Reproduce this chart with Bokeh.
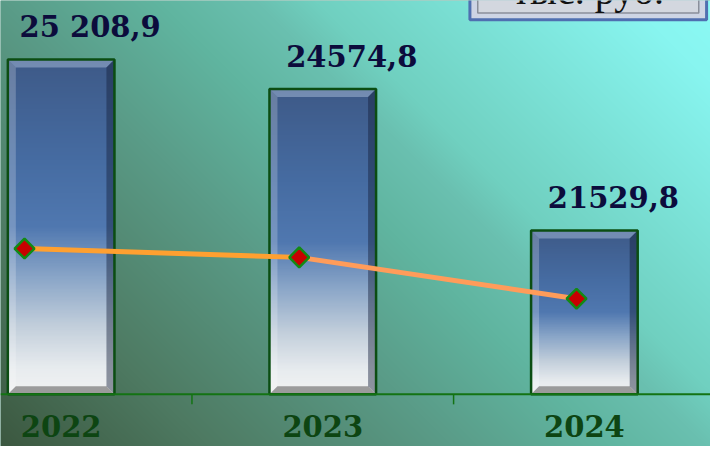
import numpy as np
from bokeh.plotting import figure
from bokeh.models import Range1d
from bokeh.embed import file_html
from bokeh.resources import INLINE
from bokeh.core.properties import value

# ---------------- data ----------------
years = ["2022", "2023", "2024"]
bar_values = [25208.9, 24574.8, 21529.8]
bar_labels = ["25 208,9", "24574,8", "21529,8"]
line_values = [21140, 20950, 20060]
line_x_shift = [-0.14, -0.09, -0.03]
unit_label = "тыс. руб."
base_value = 18000

# ---------------- layout ----------------
W, H = 710, 446
RW, RH = 726, 462
x0, x1 = -0.2318, 2.482
y0, y1 = 16877, 26482
ppx = W / (x1 - x0)          # pixels per x unit
ppy = H / (y1 - y0)          # pixels per y unit


def px(xr):
    return x0 + xr / RW * (x1 - x0)


def py(yr):
    return y1 - yr / RH * (y1 - y0)


p = figure(width=W, height=H, x_range=Range1d(x0, x1), y_range=Range1d(y0, y1),
           output_backend="svg", toolbar_location=None, min_border=0,
           x_axis_type=None, y_axis_type=None)
p.grid.visible = False
p.outline_line_color = None
p.background_fill_color = "#5a9c88"
p.border_fill_color = "#5a9c88"

# ---------------- background gradient ----------------
stops_s = [0, 212, 462, 622, 722, 782, 1102, 1188]
stops_r = [60, 78, 90, 96, 106, 112, 136, 140]
stops_g = [88, 122, 156, 181, 192, 208, 245, 250]
stops_b = [64, 98, 136, 160, 176, 192, 240, 245]
cols = (np.arange(W) + 0.5) * RW / W
rows = np.arange(H)
yr = (H - 1 - rows + 0.5) * RH / H
S = cols[None, :] + (RH - yr[:, None])
img = np.empty((H, W), dtype=np.uint32)
view = img.view(dtype=np.uint8).reshape((H, W, 4))
view[..., 0] = np.interp(S, stops_s, stops_r).astype(np.uint8)
view[..., 1] = np.interp(S, stops_s, stops_g).astype(np.uint8)
view[..., 2] = np.interp(S, stops_s, stops_b).astype(np.uint8)
view[..., 3] = 255
p.image_rgba(image=[img], x=x0, y=y0, dw=x1 - x0, dh=y1 - y0)

# ---------------- bars ----------------
bar_w = 0.4075
idx = np.arange(len(years))
g_f = [0.0, 0.3, 0.5, 0.65, 0.8, 0.92, 1.0]
g_r = [0x3e, 0x46, 0x50, 0x8a, 0xc4, 0xe8, 0xf2]
g_g = [0x5a, 0x6c, 0x78, 0xa6, 0xd0, 0xec, 0xf2]
g_b = [0x88, 0xa2, 0xb0, 0xc8, 0xdc, 0xef, 0xf2]
NR = 256
f = 1 - (np.arange(NR) + 0.5) / NR      # row 0 is the bottom of the image
bar_img = np.empty((NR, 1), dtype=np.uint32)
bv = bar_img.view(dtype=np.uint8).reshape((NR, 1, 4))
bv[:, 0, 0] = np.interp(f, g_f, g_r).astype(np.uint8)
bv[:, 0, 1] = np.interp(f, g_f, g_g).astype(np.uint8)
bv[:, 0, 2] = np.interp(f, g_f, g_b).astype(np.uint8)
bv[:, 0, 3] = 255
p.image_rgba(image=[bar_img] * len(idx), x=list(idx - bar_w / 2), y=[base_value] * len(idx),
             dw=[bar_w] * len(idx), dh=[v - base_value for v in bar_values])

# bevel bands
dx = 8 / ppx
dy = 8 / ppy
top_xs, top_ys, lft_xs, lft_ys, rgt_xs, rgt_ys, bot_xs, bot_ys = [], [], [], [], [], [], [], []
for i, v in zip(idx, bar_values):
    l, r, t, b = i - bar_w / 2, i + bar_w / 2, v, base_value
    top_xs.append([l, r, r - dx, l + dx]); top_ys.append([t, t, t - dy, t - dy])
    lft_xs.append([l, l + dx, l + dx, l]); lft_ys.append([t, t - dy, b + dy, b])
    rgt_xs.append([r, r - dx, r - dx, r]); rgt_ys.append([t, t - dy, b + dy, b])
    bot_xs.append([l, l + dx, r - dx, r]); bot_ys.append([b, b + dy, b + dy, b])
p.patches(top_xs, top_ys, fill_color="#9fb4d4", fill_alpha=0.55, line_color=None)
p.patches(lft_xs, lft_ys, fill_color="#ffffff", fill_alpha=0.22, line_color=None)
p.patches(rgt_xs, rgt_ys, fill_color="#15203a", fill_alpha=0.45, line_color=None)
p.patches(bot_xs, bot_ys, fill_color="#8c8c8c", fill_alpha=0.85, line_color=None)

p.quad(left=idx - bar_w / 2, right=idx + bar_w / 2, top=bar_values, bottom=base_value,
       fill_alpha=0, line_color="#0b4d12", line_width=2.5)

# ---------------- axis ----------------
p.segment(x0=[x0], y0=[base_value], x1=[x1], y1=[base_value], line_color="#137313", line_width=2)
tick_x = [0.5, 1.5]
p.segment(x0=tick_x, y0=[base_value] * 2, x1=tick_x, y1=[base_value - 10 / ppy] * 2,
          line_color="#137313", line_width=1.5)
p.text(x=idx, y=[base_value] * 3, text=years, y_offset=32,
       text_align="center", text_baseline="middle",
       text_font=value("DejaVu Serif"), text_font_style="bold",
       text_font_size="29px", text_color="#0d4512")

# ---------------- value labels ----------------
p.text(x=idx, y=bar_values, text=bar_labels, x_offset=29, y_offset=-33,
       text_align="center", text_baseline="middle",
       text_font=value("DejaVu Serif"), text_font_style="bold",
       text_font_size="29px", text_color="#0c0c3c")

# ---------------- line ----------------
lx = [i + s for i, s in zip(idx, line_x_shift)]
p.line(lx[:2], line_values[:2], line_color="#ffa030", line_width=5)
p.line(lx[1:], line_values[1:], line_color="#ff9c5a", line_width=5)
p.scatter(lx, line_values, marker="square", angle=np.pi / 4, size=14,
          fill_color="#c80000", line_color="#138a13", line_width=2.5)

# ---------------- unit box ----------------
p.quad(left=[px(480)], right=[px(722)], top=[py(-40)], bottom=[py(20)],
       fill_color="#cdd4e4", line_color="#4f6fb0", line_width=3)
p.quad(left=[px(488)], right=[px(714)], top=[py(-40)], bottom=[py(13)],
       fill_color="#d3d7df", line_color="#8a8f9a", line_width=1.5)
p.text(x=[px(601)], y=[py(-10)], text=[unit_label], text_align="center",
       text_baseline="alphabetic", text_font=value("Liberation Serif"),
       text_font_size="40px", text_color="#111111")

open("out.html", "w").write(file_html(p, INLINE))
